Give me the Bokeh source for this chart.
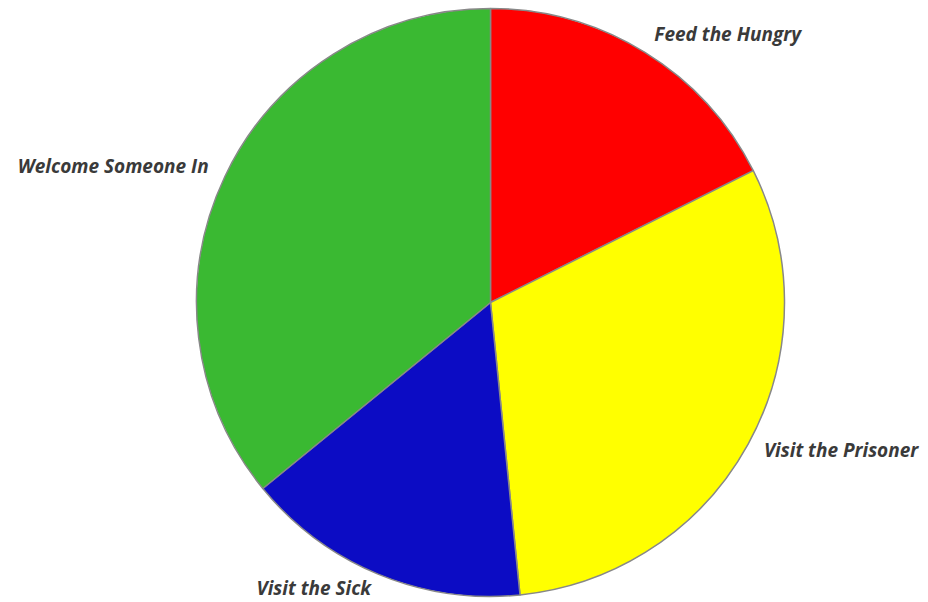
import math
from bokeh.plotting import figure
from bokeh.models import Range1d, ColumnDataSource
from bokeh.core.properties import value
from bokeh.embed import file_html
from bokeh.resources import INLINE

categories = ["Feed the Hungry", "Visit the Prisoner", "Visit the Sick", "Welcome Someone In"]
values = [17.6, 30.8, 15.7, 35.9]
colors = ["#ff0000", "#ffff00", "#0c0cc4", "#3ab932"]

W, H = 928, 602
cx, cy, r = 490, 300, 294
label_r = 312
label_shift = 3

total = sum(values)
starts, ends, lx, ly, aligns = [], [], [], [], []
acc = 0.0
for v in values:
    t0 = acc / total * 2 * math.pi
    acc += v
    t1 = acc / total * 2 * math.pi
    starts.append(math.pi / 2 - t0)
    ends.append(math.pi / 2 - t1)
    tm = (t0 + t1) / 2
    dx = math.sin(tm)
    dy = math.cos(tm)
    lx.append(cx + label_r * dx)
    ly.append(cy + label_r * dy + label_shift)
    aligns.append("left" if dx > 0 else "right")

src = ColumnDataSource(dict(start=starts, end=ends, color=colors))
lsrc = ColumnDataSource(dict(x=lx, y=ly, text=categories, align=aligns))

p = figure(width=W, height=H, output_backend="svg", toolbar_location=None,
           x_range=Range1d(0, W), y_range=Range1d(0, H), min_border=0)
p.axis.visible = False
p.grid.visible = False
p.outline_line_color = None
p.background_fill_color = "white"

p.wedge(x=cx, y=cy, radius=r, start_angle="start", end_angle="end",
        direction="clock", fill_color="color", line_color="#888888",
        line_width=1.5, source=src)

p.text(x="x", y="y", text="text", text_align="align", text_baseline="middle",
       text_font=value("Open Sans"), text_font_style="bold italic",
       text_font_size="19px", text_color="#3a3a3a", source=lsrc)

open("out.html", "w").write(file_html(p, INLINE))
